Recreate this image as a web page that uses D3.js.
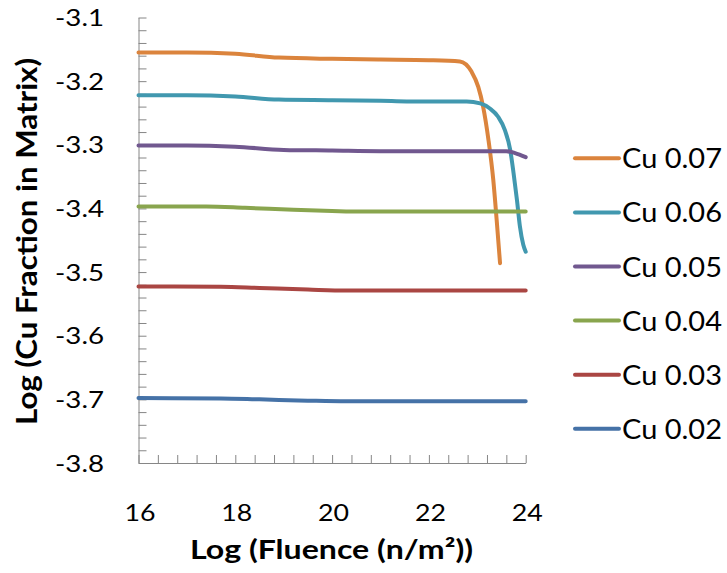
<!DOCTYPE html>
<html>
<head>
<meta charset="utf-8">
<script src="https://cdn.jsdelivr.net/npm/d3@7"></script>
<style>
  body { margin: 0; background: #fff; }
  text { font-family: Lato, "Open Sans", sans-serif; fill: #000; }
</style>
</head>
<body>
<div id="chart"></div>
<script>
// values: [log fluence, log Cu fraction]
var cu07 = [[16, -3.155], [17, -3.155], [18, -3.157], [18.9, -3.163], [20, -3.165], [21, -3.166], [22, -3.167],
    [22.64, -3.169], [22.88, -3.185], [23.02, -3.209], [23.12, -3.240], [23.23, -3.292], [23.33, -3.355],
    [23.40, -3.418], [23.47, -3.486]];
var cu06 = [[16, -3.222], [17, -3.222], [18, -3.224], [18.9, -3.229], [20, -3.230], [21, -3.231], [22, -3.232],
    [22.78, -3.232], [23.06, -3.235], [23.26, -3.243], [23.43, -3.256], [23.57, -3.277], [23.68, -3.308],
    [23.75, -3.345], [23.82, -3.387], [23.88, -3.428], [23.95, -3.457], [24, -3.468]];
var cu05 = [[16, -3.301], [17, -3.301], [18, -3.303], [19, -3.308], [20, -3.309], [21, -3.310], [22, -3.310],
    [23, -3.310], [23.6, -3.310], [23.78, -3.313], [24, -3.3195]];
var cu04 = [[16, -3.397], [17.4, -3.397], [18.2, -3.399], [19.2, -3.402], [20, -3.404], [20.6, -3.405], [22, -3.405], [24, -3.405]];
var cu03 = [[16, -3.5226], [17.7, -3.523], [18.5, -3.525], [19.5, -3.5275], [20.3, -3.529], [22, -3.529], [24, -3.529]];
var cu02 = [[16, -3.698], [17.7, -3.6985], [18.5, -3.700], [19.5, -3.702], [20.3, -3.703], [22, -3.703], [24, -3.703]];

var seriesNames = ["Cu 0.07", "Cu 0.06", "Cu 0.05", "Cu 0.04", "Cu 0.03", "Cu 0.02"];
var seriesData = [cu07, cu06, cu05, cu04, cu03, cu02];
var seriesColors = ["#DB843D", "#4198AF", "#71588F", "#89A54E", "#AA4643", "#4572A7"];

var xTickLabels = [16, 18, 20, 22, 24];
var yTickLabels = [-3.8, -3.7, -3.6, -3.5, -3.4, -3.3, -3.2, -3.1];

var svgWidth = 727, svgHeight = 573;
var plot = { left: 138.5, right: 525.7, top: 17.5, bottom: 463 };

var svg = d3.select("#chart").append("svg")
    .attr("width", svgWidth)
    .attr("height", svgHeight);

var x = d3.scaleLinear().domain([16, 24]).range([plot.left, plot.right]);
var y = d3.scaleLinear().domain([-3.8, -3.1]).range([plot.bottom, plot.top]);

// axes: ticks point inside the plot, minor ticks same length
var xAxis = d3.axisBottom(x)
    .tickValues(d3.range(0, 21).map(function (i) { return 16 + i * 0.4; }))
    .tickSize(-8).tickSizeOuter(0).tickFormat("");
var yAxis = d3.axisLeft(y)
    .tickValues(d3.range(0, 36).map(function (i) { return -3.8 + i * 0.02; }))
    .tickSize(-8).tickSizeOuter(0).tickFormat("");

svg.append("g").attr("transform", `translate(0, ${plot.bottom})`).call(xAxis);
svg.append("g").attr("transform", `translate(${plot.left}, 0)`).call(yAxis);
svg.selectAll(".domain, .tick line").attr("stroke", "#868686").attr("stroke-width", 1);

// tick labels
svg.append("g").selectAll("text")
    .data(yTickLabels).enter().append("text")
    .attr("x", 104)
    .attr("y", function (d) { return y(d) + 8.5; })
    .attr("text-anchor", "end")
    .attr("font-size", 24)
    .attr("textLength", 49)
    .attr("lengthAdjust", "spacingAndGlyphs")
    .text(function (d) { return d.toFixed(1); });

svg.append("g").selectAll("text")
    .data(xTickLabels).enter().append("text")
    .attr("x", function (d) { return x(d) + 1.5; })
    .attr("y", 521)
    .attr("text-anchor", "middle")
    .attr("font-size", 24)
    .attr("textLength", 31)
    .attr("lengthAdjust", "spacingAndGlyphs")
    .text(function (d) { return d; });

// axis titles
svg.append("text")
    .attr("transform", "translate(37, 241.5) rotate(-90)")
    .attr("text-anchor", "middle")
    .attr("font-size", 29)
    .attr("font-weight", "bold")
    .attr("textLength", 367)
    .attr("lengthAdjust", "spacingAndGlyphs")
    .text("Log (Cu Fraction in Matrix)");

svg.append("text")
    .attr("x", 331.5)
    .attr("y", 559)
    .attr("text-anchor", "middle")
    .attr("font-size", 26)
    .attr("font-weight", "bold")
    .attr("textLength", 283)
    .attr("lengthAdjust", "spacingAndGlyphs")
    .text("Log (Fluence (n/m²))");

// lines
var line = d3.line()
    .x(function (d) { return x(d[0]); })
    .y(function (d) { return y(d[1]); })
    .curve(d3.curveMonotoneX);

svg.append("g").selectAll("path")
    .data(seriesData).enter().append("path")
    .attr("d", line)
    .attr("fill", "none")
    .attr("stroke", function (d, i) { return seriesColors[i]; })
    .attr("stroke-width", 4)
    .attr("stroke-linecap", "round")
    .attr("stroke-linejoin", "round");

// legend
var legend = svg.append("g").selectAll("g")
    .data(seriesNames).enter().append("g")
    .attr("transform", function (d, i) { return `translate(575, ${158.3 + i * 54.1})`; });
legend.append("line")
    .attr("x1", 0).attr("x2", 44)
    .attr("stroke", function (d, i) { return seriesColors[i]; })
    .attr("stroke-width", 4)
    .attr("stroke-linecap", "round");
legend.append("text")
    .attr("x", 47)
    .attr("y", 10)
    .attr("font-size", 27)
    .attr("textLength", 100)
    .attr("lengthAdjust", "spacingAndGlyphs")
    .text(function (d) { return d; });
</script>
</body>
</html>
